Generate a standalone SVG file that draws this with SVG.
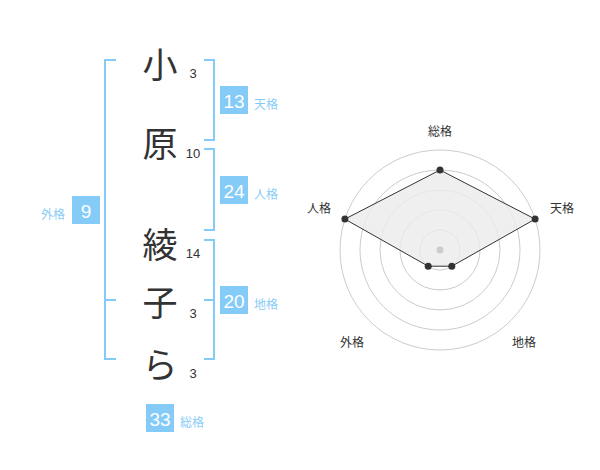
<svg xmlns="http://www.w3.org/2000/svg" width="600" height="470" viewBox="0 0 600 470">
<style>
.ch{font-family:"Noto Sans CJK JP","Noto Sans CJK SC",sans-serif;font-size:35px;font-weight:400;fill:#333;text-anchor:middle;dominant-baseline:central}
.num{font-family:"Liberation Sans",Arial,sans-serif;font-size:13px;fill:#333;text-anchor:middle}
.box{fill:#84cbf8}
.bn{font-family:"Liberation Sans",Arial,sans-serif;font-size:19px;fill:#fff;text-anchor:middle;dominant-baseline:central}
.lb{font-family:"Noto Sans CJK JP",sans-serif;font-size:12px;fill:#88ccf6}
.br{fill:none;stroke:#84cbf8;stroke-width:2}
.ring{fill:none;stroke:#ccc;stroke-width:1}
.rl{font-family:"Noto Sans CJK JP",sans-serif;font-size:12px;fill:#333;text-anchor:middle}
</style>
<rect width="600" height="470" fill="#fff"/>
<g id="connectors">
<path class="br" d="M116,60 H105 V359 H116 M105,300 H116"/>
<path class="br" d="M204,60 H214 V140 H204"/>
<path class="br" d="M204,149 H214 V230 H204"/>
<path class="br" d="M204,240 H214 V359 H204 M204,300 H214"/>
</g>
<g id="char1"><text class="ch" x="160" y="62">小</text><text class="num" x="193" y="78">3</text></g>
<g id="char2"><text class="ch" x="160" y="141">原</text><text class="num" x="193" y="158">10</text></g>
<g id="char3"><text class="ch" x="160" y="242">綾</text><text class="num" x="193" y="258">14</text></g>
<g id="char4"><text class="ch" x="160" y="300">子</text><text class="num" x="193" y="318">3</text></g>
<g id="char5"><text class="ch" x="160" y="362">ら</text><text class="num" x="193" y="378">3</text></g>
<g id="tenkaku"><rect class="box" x="220" y="86" width="28" height="28"/><text class="bn" x="234" y="101">13</text><text class="lb" x="254" y="109">天格</text></g>
<g id="jinkaku"><rect class="box" x="220" y="176" width="28" height="28"/><text class="bn" x="234" y="191">24</text><text class="lb" x="254" y="199">人格</text></g>
<g id="chikaku"><rect class="box" x="220" y="286" width="28" height="28"/><text class="bn" x="234" y="301">20</text><text class="lb" x="254" y="309">地格</text></g>
<g id="gaikaku"><rect class="box" x="72" y="196" width="28" height="28"/><text class="bn" x="86" y="211">9</text><text class="lb" x="41" y="219">外格</text></g>
<g id="soukaku"><rect class="box" x="146" y="404" width="28" height="28"/><text class="bn" x="160" y="419">33</text><text class="lb" x="180" y="427">総格</text></g>
<g id="radar">
<circle class="ring" cx="440" cy="250" r="20"/>
<circle class="ring" cx="440" cy="250" r="40"/>
<circle class="ring" cx="440" cy="250" r="60"/>
<circle class="ring" cx="440" cy="250" r="80"/>
<circle class="ring" cx="440" cy="250" r="100"/>
<polygon points="440,170 535.1,219.1 451.8,266.2 428.2,266.2 344.9,219.1" fill="#ebebeb" fill-opacity="0.8" stroke="#333" stroke-width="1"/>
<circle cx="440" cy="250" r="3.5" fill="#ccc"/>
<g fill="#333">
<circle cx="440" cy="170" r="3.5"/>
<circle cx="535.1" cy="219.1" r="3.5"/>
<circle cx="451.8" cy="266.2" r="3.5"/>
<circle cx="428.2" cy="266.2" r="3.5"/>
<circle cx="344.9" cy="219.1" r="3.5"/>
</g>
<text class="rl" x="440" y="136">総格</text>
<text class="rl" x="562" y="213">天格</text>
<text class="rl" x="524" y="347">地格</text>
<text class="rl" x="352" y="347">外格</text>
<text class="rl" x="319" y="213">人格</text>
</g>
</svg>
